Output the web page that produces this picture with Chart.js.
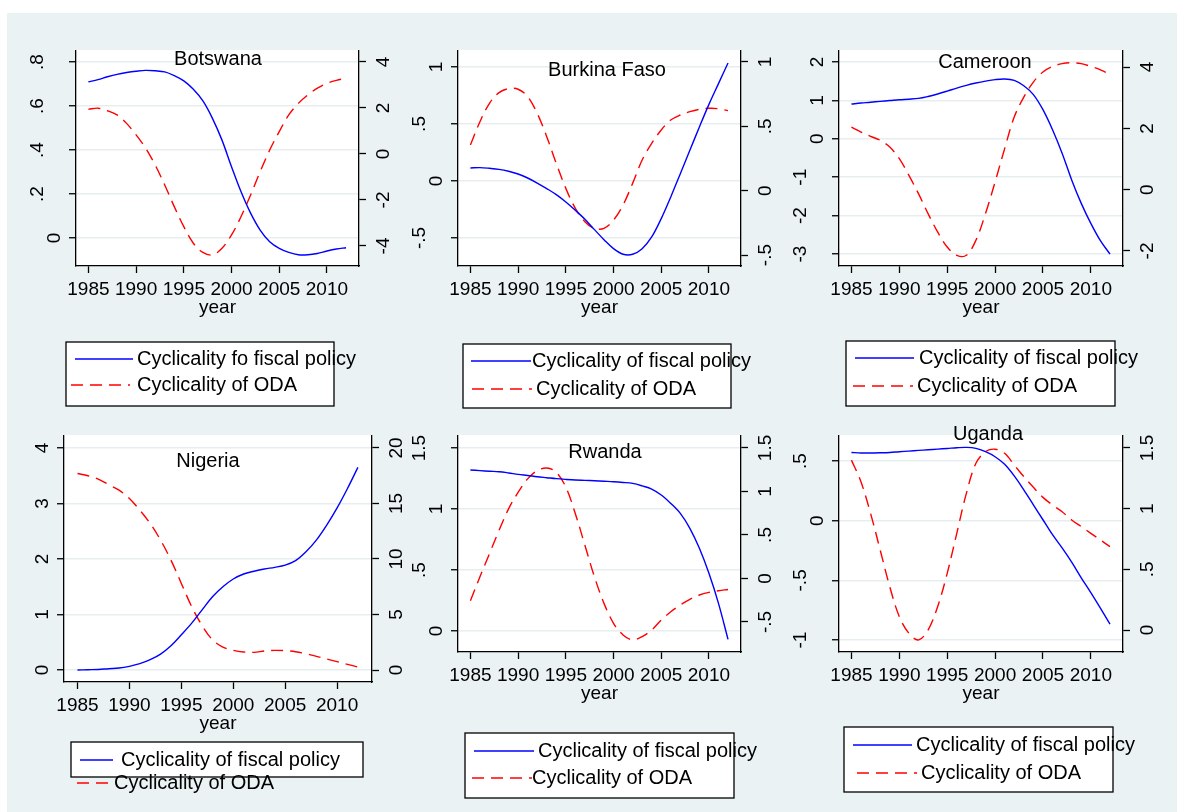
<!DOCTYPE html>
<html>
<head>
<meta charset="utf-8">
<script src="https://cdn.jsdelivr.net/npm/chart.js@4.4.1/dist/chart.umd.min.js"></script>
<style>
  html, body { margin: 0; padding: 0; background: #fff; }
  #page { position: relative; width: 1177px; height: 812px; overflow: hidden; }
  #bg { position: absolute; left: 7px; top: 13px; right: 0; bottom: 0; background: #eaf2f3; }
  canvas { position: absolute; }
  #over { position: absolute; left: 0; top: 0; }
</style>
</head>
<body>
<div id="page">
  <div id="bg"></div>
  <svg id="over" width="1177" height="812"></svg>
</div>
<script>
// Years on the x axis
const years = [1985, 1986, 1987, 1988, 1989, 1990, 1991, 1992, 1993, 1994, 1995, 1996, 1997, 1998,
               1999, 2000, 2001, 2002, 2003, 2004, 2005, 2006, 2007, 2008, 2009, 2010, 2011, 2012];
const yearTicks = [1985, 1990, 1995, 2000, 2005, 2010];

// Series (fiscal = left axis, ODA = right axis)
const botswanaFiscal = [0.710, 0.720, 0.733, 0.744, 0.752, 0.758, 0.762, 0.760, 0.755, 0.738, 0.714, 0.676, 0.623, 0.544,
                        0.445, 0.324, 0.210, 0.113, 0.036, -0.017, -0.047, -0.065, -0.076, -0.076, -0.070, -0.059, -0.050, -0.044];
const botswanaOda = [1.94, 1.99, 1.88, 1.70, 1.33, 0.83, 0.25, -0.48, -1.35, -2.29, -3.16, -3.88, -4.28, -4.39,
                     -4.10, -3.52, -2.72, -1.78, -0.77, 0.17, 0.97, 1.70, 2.20, 2.57, 2.86, 3.07, 3.20, 3.29];

const burkinaFiscal = [0.114, 0.117, 0.111, 0.102, 0.085, 0.061, 0.026, -0.018, -0.067, -0.120, -0.184, -0.257, -0.336, -0.427,
                       -0.515, -0.594, -0.643, -0.643, -0.594, -0.491, -0.330, -0.140, 0.064, 0.269, 0.474, 0.672, 0.854, 1.035];
const burkinaOda = [0.355, 0.536, 0.679, 0.762, 0.793, 0.788, 0.731, 0.601, 0.420, 0.212, 0.018, -0.137, -0.241, -0.293,
                    -0.293, -0.228, -0.111, 0.057, 0.238, 0.368, 0.472, 0.549, 0.588, 0.614, 0.632, 0.640, 0.637, 0.622];

const cameroonFiscal = [0.904, 0.93, 0.95, 0.974, 0.995, 1.017, 1.03, 1.05, 1.10, 1.165, 1.24, 1.32, 1.39, 1.45,
                        1.50, 1.54, 1.556, 1.52, 1.38, 1.15, 0.757, 0.235, -0.374, -1.07, -1.68, -2.20, -2.65, -3.00];
const cameroonOda = [2.04, 1.88, 1.74, 1.61, 1.39, 1.01, 0.467, -0.13, -0.78, -1.38, -1.87, -2.14, -2.14, -1.65,
                     -0.78, 0.25, 1.34, 2.37, 3.02, 3.51, 3.84, 4.02, 4.11, 4.14, 4.11, 4.02, 3.91, 3.76];

const nigeriaFiscal = [0, 0.005, 0.01, 0.024, 0.035, 0.066, 0.114, 0.186, 0.287, 0.437, 0.635, 0.844, 1.084, 1.32,
                       1.50, 1.64, 1.73, 1.78, 1.82, 1.85, 1.89, 1.97, 2.13, 2.34, 2.61, 2.92, 3.27, 3.65];
const nigeriaOda = [17.7, 17.5, 17.2, 16.7, 16.2, 15.45, 14.4, 13.2, 11.7, 9.9, 7.8, 5.7, 4.0, 2.72,
                    2.07, 1.77, 1.62, 1.59, 1.71, 1.77, 1.74, 1.65, 1.47, 1.23, 0.99, 0.75, 0.51, 0.27];

const rwandaFiscal = [1.32, 1.315, 1.31, 1.306, 1.296, 1.284, 1.275, 1.265, 1.257, 1.249, 1.243, 1.238, 1.235, 1.232,
                      1.228, 1.224, 1.218, 1.21, 1.19, 1.164, 1.115, 1.046, 0.964, 0.842, 0.678, 0.473, 0.227, -0.068];
const rwandaOda = [-0.256, 0.019, 0.286, 0.553, 0.80, 0.99, 1.145, 1.24, 1.27, 1.22, 1.05, 0.744, 0.382, 0.019,
                   -0.286, -0.515, -0.649, -0.706, -0.668, -0.592, -0.477, -0.382, -0.305, -0.24, -0.19, -0.16, -0.141, -0.126];

const ugandaFiscal = [0.572, 0.567, 0.567, 0.569, 0.572, 0.578, 0.583, 0.589, 0.594, 0.600, 0.605, 0.611, 0.614, 0.606,
                      0.578, 0.536, 0.472, 0.375, 0.258, 0.133, 0.008, -0.117, -0.228, -0.347, -0.478, -0.603, -0.733, -0.867];
const ugandaOda = [1.40, 1.22, 0.96, 0.66, 0.357, 0.11, -0.027, -0.082, 0, 0.192, 0.467, 0.797, 1.126, 1.374,
                   1.47, 1.49, 1.456, 1.36, 1.264, 1.176, 1.093, 1.03, 0.975, 0.907, 0.852, 0.797, 0.742, 0.687];

// Tick values of each axis
const botswanaTicksL = [0, 0.2, 0.4, 0.6, 0.8];
const botswanaTicksR = [-4, -2, 0, 2, 4];
const burkinaTicksL = [-0.5, 0, 0.5, 1];
const burkinaTicksR = [-0.5, 0, 0.5, 1];
const cameroonTicksL = [-3, -2, -1, 0, 1, 2];
const cameroonTicksR = [-2, 0, 2, 4];
const nigeriaTicksL = [0, 1, 2, 3, 4];
const nigeriaTicksR = [0, 5, 10, 15, 20];
const rwandaTicksL = [0, 0.5, 1, 1.5];
const rwandaTicksR = [-0.5, 0, 0.5, 1, 1.5];
const ugandaTicksL = [-1, -0.5, 0, 0.5];
const ugandaTicksR = [0, 0.5, 1, 1.5];

const fiscalLabel = 'Cyclicality of fiscal policy';
const odaLabel = 'Cyclicality of ODA';

const FONT = '"Liberation Sans", Arial, Helvetica, sans-serif';
const BLUE = '#0000ff';
const RED = '#ff0000';
const INK = '#000';

// layout of each panel: plot rectangle [L, T, R, B], title, legend
const panels = [
  { title: 'Botswana', fiscal: botswanaFiscal, oda: botswanaOda, tL: botswanaTicksL, tR: botswanaTicksR,
    yL: [-0.127, 0.8545], yR: [-4.87, 4.52], plot: [76, 50, 359, 266], titlePos: [218, 65],
    fiscalText: 'Cyclicality fo fiscal policy',
    box: [66, 342, 334, 406], r1: [75, 133, 359, 137], r2: [71, 130, 385, 137] },
  { title: 'Burkina Faso', fiscal: burkinaFiscal, oda: burkinaOda, tL: burkinaTicksL, tR: burkinaTicksR,
    yL: [-0.746, 1.149], yR: [-0.585, 1.093], plot: [458, 50, 741, 266], titlePos: [607, 76],
    fiscalText: fiscalLabel,
    box: [463, 344, 731, 408], r1: [471, 531, 361, 532], r2: [472, 532, 389, 536] },
  { title: 'Cameroon', fiscal: cameroonFiscal, oda: cameroonOda, tL: cameroonTicksL, tR: cameroonTicksR,
    yL: [-3.31, 2.31], yR: [-2.49, 4.556], plot: [839, 50, 1123, 266], titlePos: [985, 68],
    fiscalText: fiscalLabel,
    box: [846, 341, 1115, 406], r1: [855, 914, 358, 919], r2: [853, 913, 386, 917] },
  { title: 'Nigeria', fiscal: nigeriaFiscal, oda: nigeriaOda, tL: nigeriaTicksL, tR: nigeriaTicksR,
    yL: [-0.216, 4.234], yR: [-1.08, 21.17], plot: [64, 435, 372, 682], titlePos: [208, 467],
    fiscalText: fiscalLabel,
    box: [71, 742, 363, 777], r1: [80, 113, 760, 121], r2: [77, 110, 783, 114] },
  { title: 'Rwanda', fiscal: rwandaFiscal, oda: rwandaOda, tL: rwandaTicksL, tR: rwandaTicksR,
    yL: [-0.172, 1.607], yR: [-0.845, 1.649], plot: [458, 435, 741, 652], titlePos: [605, 458],
    fiscalText: fiscalLabel,
    box: [465, 733, 734, 798], r1: [474, 534, 751, 538], r2: [472, 532, 778, 532] },
  { title: 'Uganda', fiscal: ugandaFiscal, oda: ugandaOda, tL: ugandaTicksL, tR: ugandaTicksR,
    yL: [-1.10, 0.718], yR: [-0.181, 1.607], plot: [839, 435, 1123, 652], titlePos: [988, 440],
    fiscalText: fiscalLabel,
    box: [844, 727, 1113, 792], r1: [853, 912, 745, 916], r2: [857, 917, 773, 921] }
];

const SIDE = 50;   // width kept for each y axis
const XH = 60;     // height kept for the x axis

// Stata style numbers: .5 instead of 0.5
function fmt(v) {
  return String(+v.toFixed(2)).replace(/^(-?)0\./, '$1.');
}

// white plot region
const plotBg = {
  id: 'plotBg',
  beforeDraw(chart) {
    const a = chart.chartArea, ctx = chart.ctx;
    ctx.save();
    ctx.fillStyle = '#fff';
    ctx.fillRect(a.left, a.top, a.right - a.left, a.bottom - a.top);
    ctx.restore();
  }
};

// vertical tick labels on both y axes
const vertLabels = {
  id: 'vertLabels',
  afterDraw(chart) {
    const ctx = chart.ctx;
    ['yL', 'yR'].forEach(id => {
      const s = chart.scales[id];
      s.ticks.forEach(t => {
        const txt = fmt(t.value);
        const y = s.getPixelForValue(t.value);
        const x = id === 'yL' ? s.right - 16 - (txt.length > 1 ? 17 : 0) : s.left + 30;
        ctx.save();
        ctx.translate(x, y);
        ctx.rotate(-Math.PI / 2);
        ctx.font = '19px ' + FONT;
        ctx.fillStyle = INK;
        ctx.textAlign = 'center';
        ctx.textBaseline = 'alphabetic';
        ctx.fillText(txt, 0, 0);
        ctx.restore();
      });
    });
  }
};

const page = document.getElementById('page');
const over = document.getElementById('over');
const NS = 'http://www.w3.org/2000/svg';

function svgEl(tag, attrs, text) {
  const el = document.createElementNS(NS, tag);
  for (const k in attrs) el.setAttribute(k, attrs[k]);
  if (text) el.textContent = text;
  over.appendChild(el);
  return el;
}

panels.forEach(p => {
  const [L, T, R, B] = p.plot;
  const canvas = document.createElement('canvas');
  canvas.width = R - L + 2 * SIDE;
  canvas.height = B - T + XH;
  canvas.style.left = (L - SIDE) + 'px';
  canvas.style.top = T + 'px';
  page.insertBefore(canvas, over);

  new Chart(canvas.getContext('2d'), {
    type: 'line',
    data: {
      datasets: [
        {
          label: p.fiscalText,
          data: years.map((yr, i) => ({ x: yr, y: p.fiscal[i] })),
          yAxisID: 'yL',
          borderColor: BLUE,
          borderWidth: 1.4,
          pointRadius: 0,
          tension: 0.35
        },
        {
          label: odaLabel,
          data: years.map((yr, i) => ({ x: yr, y: p.oda[i] })),
          yAxisID: 'yR',
          borderColor: RED,
          borderWidth: 1.4,
          borderDash: [12, 7],
          pointRadius: 0,
          tension: 0.35
        }
      ]
    },
    options: {
      responsive: false,
      animation: false,
      layout: { padding: 0 },
      plugins: { legend: { display: false }, tooltip: { enabled: false } },
      scales: {
        x: {
          type: 'linear',
          position: 'bottom',
          min: 1983.7,
          max: 2013.36,
          afterBuildTicks: s => { s.ticks = yearTicks.map(v => ({ value: v })); },
          afterFit: s => { s.height = XH; },
          grid: { drawOnChartArea: false, tickLength: 7, tickColor: INK, tickWidth: 1.3 },
          border: { color: INK, width: 1.3 },
          ticks: {
            autoSkip: false, maxRotation: 0, padding: 5, color: INK,
            font: { family: FONT, size: 19 },
            callback: v => String(v)
          },
          title: {
            display: true, text: 'year', color: INK,
            font: { family: FONT, size: 19 },
            padding: { top: 0, bottom: 7 }
          }
        },
        yL: {
          type: 'linear',
          position: 'left',
          min: p.yL[0],
          max: p.yL[1],
          afterBuildTicks: s => { s.ticks = p.tL.map(v => ({ value: v })); },
          afterFit: s => { s.width = SIDE; },
          grid: { color: '#e6eef0', lineWidth: 1.5, tickLength: 7, tickColor: INK, tickWidth: 1.3 },
          border: { color: INK, width: 1.3 },
          ticks: { display: false }
        },
        yR: {
          type: 'linear',
          position: 'right',
          min: p.yR[0],
          max: p.yR[1],
          afterBuildTicks: s => { s.ticks = p.tR.map(v => ({ value: v })); },
          afterFit: s => { s.width = SIDE; },
          grid: { drawOnChartArea: false, tickLength: 7, tickColor: INK, tickWidth: 1.3 },
          border: { color: INK, width: 1.3 },
          ticks: { display: false }
        }
      }
    },
    plugins: [plotBg, vertLabels]
  });

  // title inside the plot
  svgEl('text', { x: p.titlePos[0], y: p.titlePos[1], 'text-anchor': 'middle',
    'font-family': FONT, 'font-size': 20, fill: INK }, p.title);

  // legend box
  const [bx1, by1, bx2, by2] = p.box;
  svgEl('rect', { x: bx1, y: by1, width: bx2 - bx1, height: by2 - by1,
    fill: '#fff', stroke: INK, 'stroke-width': 1.3 });
  svgEl('line', { x1: p.r1[0], x2: p.r1[1], y1: p.r1[2], y2: p.r1[2], stroke: BLUE, 'stroke-width': 1.3 });
  svgEl('text', { x: p.r1[3], y: p.r1[2] + 6, 'font-family': FONT, 'font-size': 20, fill: INK }, p.fiscalText);
  svgEl('line', { x1: p.r2[0], x2: p.r2[1], y1: p.r2[2], y2: p.r2[2], stroke: RED, 'stroke-width': 1.3,
    'stroke-dasharray': '12 7' });
  svgEl('text', { x: p.r2[3], y: p.r2[2] + 6, 'font-family': FONT, 'font-size': 20, fill: INK }, odaLabel);
});
</script>
</body>
</html>
